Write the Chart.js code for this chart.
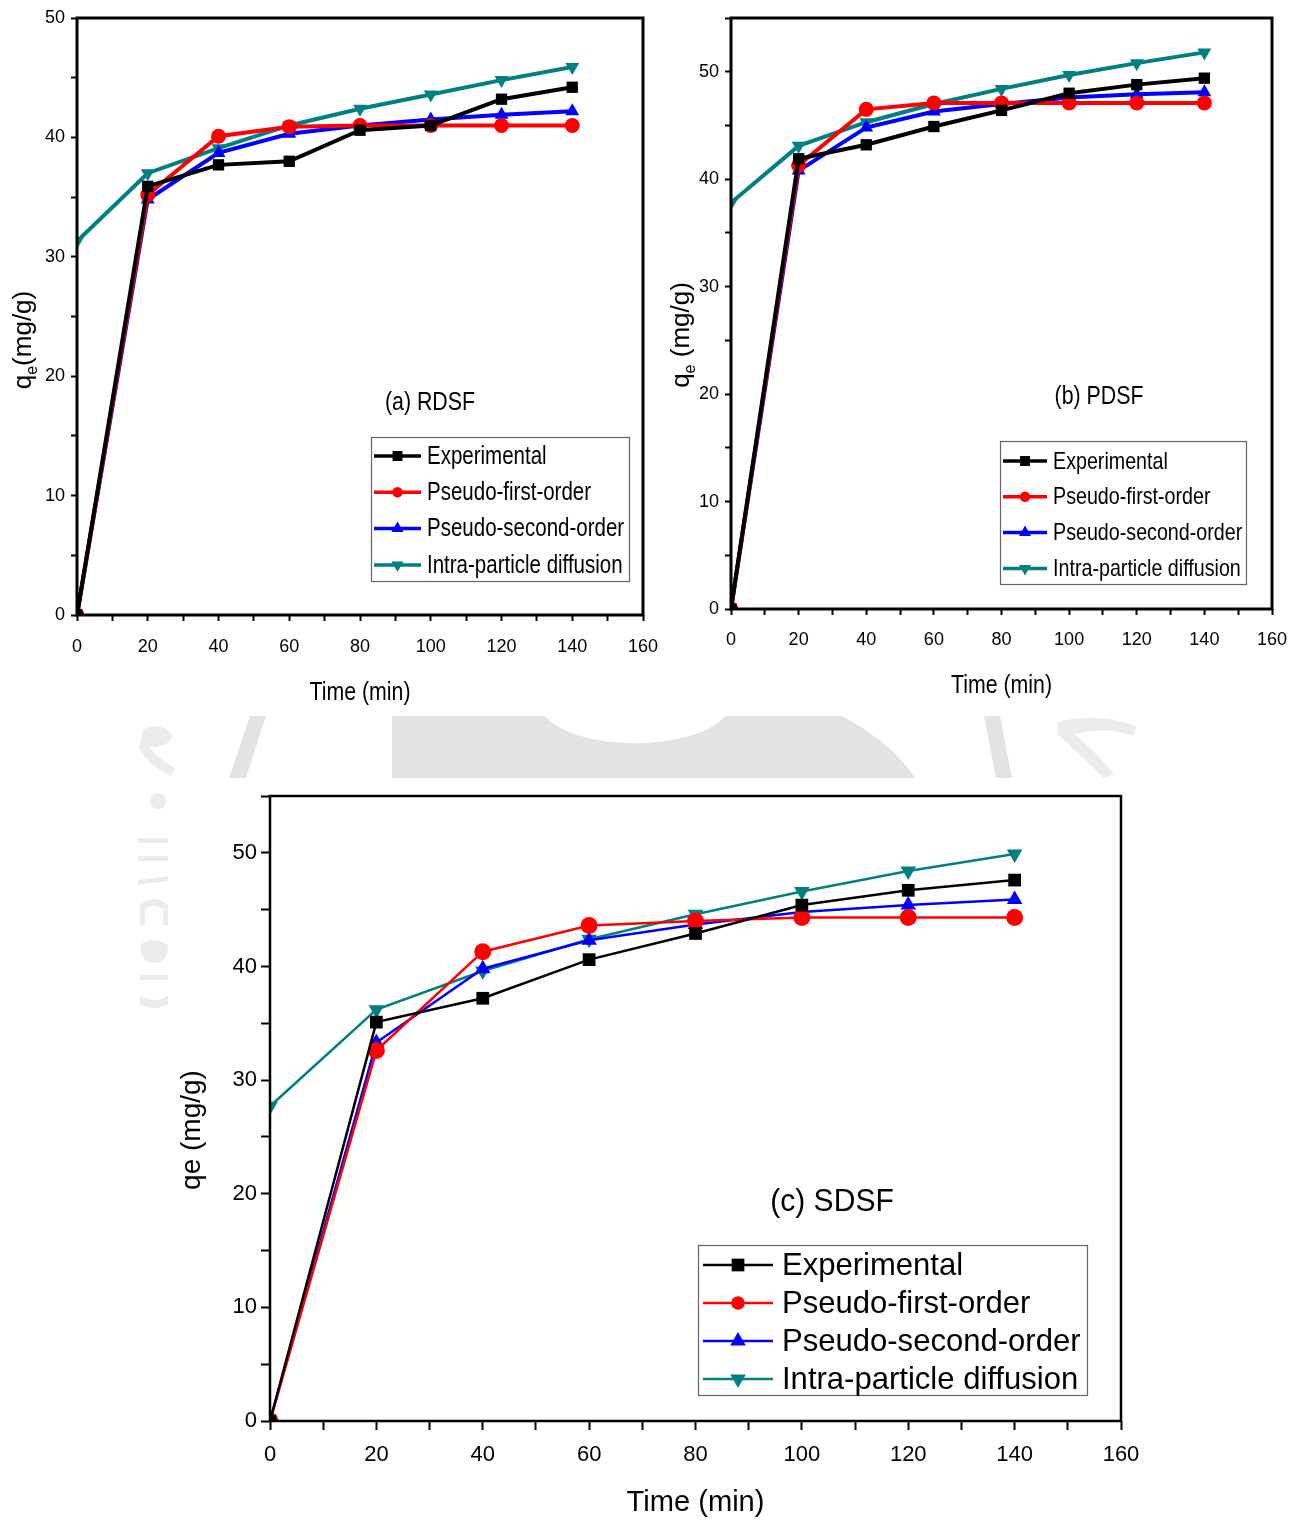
<!DOCTYPE html>
<html>

<head>
  <title>Adsorption kinetics</title>
  <script src="https://cdn.jsdelivr.net/npm/chart.js@4.4.0/dist/chart.umd.min.js"></script>
  <style>
    body { margin: 0; background: #fff; width: 1299px; height: 1521px; position: relative; overflow: hidden; }
    canvas { position: absolute; }
    #bg { position: absolute; left: 0; top: 0; }
  </style>
</head>

<body>
  <!-- faint page artwork behind the lower plot -->
  <svg id="bg" width="1299" height="1521">
    <g fill="#e3e3e3">
      <path d="M392 716 L545 716 A95 40 0 0 0 725 716 L842 716 Q895 745 915 778 L392 778 Z" />
      <path d="M250 716 L266 716 L246 778 L229 778 Z" />
      <path d="M984 716 L1000 716 L1012 778 L996 778 Z" />
    </g>
    <g fill="#ececec">
      <path d="M143 730 q18 -10 30 6 q-8 14 -24 10 q10 14 26 22 l-4 8 q-22 -10 -32 -28 Z" />
      <path d="M1058 722 q40 -10 78 4 l-2 10 q-30 -10 -60 -2 q20 16 40 40 l-10 4 q-28 -26 -46 -44 Z" />
      <circle cx="158" cy="801" r="8" />
      <rect x="138" y="838" width="30" height="5" />
      <rect x="138" y="856" width="30" height="5" />
      <path d="M138 880 l30 -4 l0 5 l-30 4 Z" />
      <path d="M140 905 q14 -12 28 0 l0 20 l-5 0 l0 -16 q-9 -6 -18 0 l0 16 l-5 0 Z" />
      <path d="M140 945 q14 -10 28 0 q0 18 -14 18 q-14 0 -14 -18 Z" />
      <rect x="140" y="975" width="28" height="5" />
      <path d="M140 995 q14 10 28 0 l0 9 q-14 8 -28 0 Z" />
    </g>
  </svg>

  <canvas id="chartA" width="660" height="715" style="left:0;top:0"></canvas>
  <canvas id="chartB" width="639" height="715" style="left:660px;top:0"></canvas>
  <canvas id="chartC" width="1020" height="741" style="left:140px;top:780px"></canvas>

  <script>
    const timeMin = [0, 20, 40, 60, 80, 100, 120, 140];

    const seriesNames = ['Experimental', 'Pseudo-first-order', 'Pseudo-second-order', 'Intra-particle diffusion'];
    const seriesColors = ['#000000', '#ff0000', '#0000ff', '#008080'];
    const seriesMarkers = ['rect', 'circle', 'triangle', 'triangle'];
    const markerRotation = [0, 0, 0, 180];

    // (a) RDSF
    const rdsfExp = [0, 35.9, 37.7, 38.0, 40.6, 41.0, 43.2, 44.2];
    const rdsfPfo = [0, 35.2, 40.1, 40.9, 41.0, 41.0, 41.0, 41.0];
    const rdsfPso = [0, 34.8, 38.7, 40.3, 41.0, 41.5, 41.9, 42.2];
    const rdsfIpd = [31.3, 37.0, 39.1, 41.0, 42.4, 43.6, 44.8, 45.9];

    // (b) PDSF
    const pdsfExp = [0, 41.9, 43.2, 44.9, 46.4, 48.0, 48.8, 49.4];
    const pdsfPfo = [0, 41.3, 46.5, 47.1, 47.1, 47.1, 47.1, 47.1];
    const pdsfPso = [0, 40.8, 44.8, 46.3, 47.0, 47.6, 47.9, 48.1];
    const pdsfIpd = [37.8, 43.1, 45.3, 47.0, 48.4, 49.7, 50.8, 51.8];

    // (c) SDSF
    const sdsfExp = [0, 35.1, 37.2, 40.6, 42.9, 45.4, 46.7, 47.6];
    const sdsfPfo = [0, 32.6, 41.3, 43.6, 44.0, 44.3, 44.3, 44.3];
    const sdsfPso = [0, 33.3, 39.8, 42.3, 43.7, 44.8, 45.4, 45.9];
    const sdsfIpd = [27.7, 36.2, 39.6, 42.4, 44.6, 46.6, 48.4, 49.9];

    const xTickLabels = [0, 20, 40, 60, 80, 100, 120, 140, 160];

    const REG = '"Liberation Sans", Arial, sans-serif';

    // text squeezed horizontally, for the condensed lettering of the top panels
    function fillTextSx(ctx, text, x, y, sx) {
      ctx.save();
      ctx.translate(x, y);
      ctx.scale(sx, 1);
      ctx.fillText(text, 0, 0);
      ctx.restore();
    }

    function drawMarker(ctx, style, rot, x, y, r, color) {
      ctx.save();
      ctx.fillStyle = color;
      ctx.translate(x, y);
      ctx.rotate(rot * Math.PI / 180);
      ctx.beginPath();
      if (style === 'rect') {
        const s = r * Math.SQRT1_2;
        ctx.rect(-s, -s, 2 * s, 2 * s);
      } else if (style === 'circle') {
        ctx.arc(0, 0, r * 0.75, 0, Math.PI * 2);
      } else {
        ctx.moveTo(0, -r);
        ctx.lineTo(r * 0.866, r * 0.5);
        ctx.lineTo(-r * 0.866, r * 0.5);
        ctx.closePath();
      }
      ctx.fill();
      ctx.restore();
    }

    function drawYTitle(ctx, t) {
      ctx.save();
      ctx.translate(t.x, t.y);
      ctx.rotate(-Math.PI / 2);
      ctx.fillStyle = '#000';
      ctx.textBaseline = 'alphabetic';
      const main = `${t.size}px ${REG}`;
      const sub = `${Math.round(t.size * 0.62)}px ${REG}`;
      ctx.font = main;
      const wq = ctx.measureText('q').width;
      const wr = ctx.measureText(t.rest).width;
      ctx.font = t.subscript ? sub : main;
      const we = ctx.measureText('e').width;
      let x = -(wq + we + wr) / 2;
      const base = t.size * 0.36;
      ctx.font = main;
      ctx.fillText('q', x, base);
      x += wq;
      ctx.font = t.subscript ? sub : main;
      ctx.fillText('e', x, t.subscript ? base + t.size * 0.22 : base);
      x += we;
      ctx.font = main;
      ctx.fillText(t.rest, x, base);
      ctx.restore();
    }

    function panelPlugin(p) {
      return {
        id: 'panelDecor',
        afterDatasetsDraw(chart) {
          const { ctx, chartArea: a } = chart;
          ctx.save();
          ctx.strokeStyle = '#000';
          ctx.lineWidth = p.frame;
          ctx.strokeRect(a.left, a.top, a.right - a.left, a.bottom - a.top);
          ctx.restore();
        },
        afterDraw(chart) {
          const { ctx, chartArea: a } = chart;
          ctx.save();
          ctx.fillStyle = '#000';
          ctx.textAlign = 'center';
          ctx.textBaseline = 'middle';
          // x axis title
          ctx.font = `${p.xTitle.size}px ${REG}`;
          fillTextSx(ctx, 'Time (min)', (a.left + a.right) / 2, a.bottom + p.xTitle.offset, p.sx);
          // panel label
          ctx.font = `${p.label.size}px ${REG}`;
          fillTextSx(ctx, p.label.text, p.label.x, p.label.y, p.sx);
          ctx.restore();

          drawYTitle(ctx, p.yTitle);

          // legend box
          const L = p.legend;
          ctx.save();
          ctx.fillStyle = '#fff';
          ctx.fillRect(L.x, L.y, L.w, L.h);
          ctx.strokeStyle = '#666';
          ctx.lineWidth = 1.2;
          ctx.strokeRect(L.x + 0.5, L.y + 0.5, L.w, L.h);
          ctx.font = `${L.size}px ${REG}`;
          ctx.textAlign = 'left';
          ctx.textBaseline = 'middle';
          chart.data.datasets.forEach((ds, i) => {
            const y = L.y + L.first + i * L.gap;
            ctx.strokeStyle = ds.borderColor;
            ctx.lineWidth = L.lineW;
            ctx.beginPath();
            ctx.moveTo(L.x + L.lineX0, y);
            ctx.lineTo(L.x + L.lineX1, y);
            ctx.stroke();
            drawMarker(ctx, ds.pointStyle, ds.pointRotation, L.x + (L.lineX0 + L.lineX1) / 2, y, L.marker, ds.borderColor);
            ctx.fillStyle = '#000';
            fillTextSx(ctx, ds.label, L.x + L.textX, y + 1, p.sx);
          });
          ctx.restore();
        }
      };
    }

    function makeDatasets(series, p) {
      return series.map((vals, i) => ({
        label: seriesNames[i],
        data: timeMin.map((t, k) => ({ x: t, y: vals[k] })),
        borderColor: seriesColors[i],
        backgroundColor: seriesColors[i],
        borderWidth: p.lineW,
        pointStyle: seriesMarkers[i],
        pointRotation: markerRotation[i],
        pointRadius: p.markers[i],
        pointBorderWidth: 0,
        tension: 0
      }));
    }

    function makeChart(id, series, p) {
      return new Chart(document.getElementById(id), {
        type: 'line',
        data: { datasets: makeDatasets(series, p) },
        options: {
          responsive: false,
          animation: false,
          layout: { padding: { top: p.padTop, right: p.padRight, left: 0, bottom: 0 } },
          plugins: { legend: { display: false }, tooltip: { enabled: false } },
          scales: {
            x: {
              type: 'linear', min: 0, max: 160,
              afterFit: (s) => { s.height = p.xAxisH; s.paddingLeft = 0; s.paddingRight = 0; },
              ticks: {
                stepSize: 10, autoSkip: false, maxRotation: 0, padding: p.xPad, color: '#000',
                font: { family: REG, size: p.xTickSize },
                callback: (v) => xTickLabels.includes(v) ? String(v) : ''
              },
              grid: { drawOnChartArea: false, tickLength: p.tick, tickWidth: 2, tickColor: '#000' },
              border: { display: false }
            },
            y: {
              min: 0, max: p.yMax,
              afterFit: (s) => { s.width = p.yAxisW; s.paddingTop = 0; s.paddingBottom = 0; },
              ticks: {
                stepSize: 5, autoSkip: false, padding: p.yPad, color: '#000',
                font: { family: REG, size: p.yTickSize },
                callback: (v) => v % 10 === 0 ? String(v) : ''
              },
              grid: { drawOnChartArea: false, tickLength: p.tick, tickWidth: 2, tickColor: '#000' },
              border: { display: false }
            }
          }
        },
        plugins: [panelPlugin(p)]
      });
    }

    makeChart('chartA', [rdsfExp, rdsfPfo, rdsfPso, rdsfIpd], {
      yMax: 50, padTop: 18, padRight: 17, yAxisW: 77, xAxisH: 100,
      tick: 6, xPad: 15, yPad: 6, frame: 3, lineW: 4, sx: 0.82,
      markers: [8, 7.5, 8, 8],
      xTickSize: 18, yTickSize: 18,
      xTitle: { size: 26, offset: 78 },
      yTitle: { x: 22, y: 340, size: 26, rest: '(mg/g)', subscript: true },
      label: { text: '(a) RDSF', x: 430, y: 403, size: 26 },
      legend: { x: 371, y: 437, w: 258, h: 144, first: 19, gap: 36.3, lineX0: 3, lineX1: 50, textX: 56,
        lineW: 3.5, marker: 7, size: 25 }
    });

    makeChart('chartB', [pdsfExp, pdsfPfo, pdsfPso, pdsfIpd], {
      yMax: 55, padTop: 18, padRight: 27, yAxisW: 71, xAxisH: 106,
      tick: 6, xPad: 14, yPad: 6, frame: 3, lineW: 4, sx: 0.82,
      markers: [8, 7.5, 8, 8],
      xTickSize: 18, yTickSize: 18,
      xTitle: { size: 26, offset: 77 },
      yTitle: { x: 20, y: 335, size: 26, rest: ' (mg/g)', subscript: true },
      label: { text: '(b) PDSF', x: 439, y: 397, size: 26 },
      legend: { x: 340, y: 441, w: 246, h: 143, first: 20, gap: 35.8, lineX0: 3, lineX1: 47, textX: 53,
        lineW: 3.5, marker: 7, size: 24 }
    });

    makeChart('chartC', [sdsfExp, sdsfPfo, sdsfPso, sdsfIpd], {
      yMax: 55, padTop: 16, padRight: 39, yAxisW: 130, xAxisH: 100,
      tick: 9, xPad: 12, yPad: 4, frame: 2.5, lineW: 2.5, sx: 0.97,
      markers: [9, 8.5, 9, 9],
      xTickSize: 22, yTickSize: 22,
      xTitle: { size: 30, offset: 82 },
      yTitle: { x: 50, y: 350, size: 28, rest: ' (mg/g)', subscript: false },
      label: { text: '(c) SDSF', x: 692, y: 422, size: 31 },
      legend: { x: 558, y: 465, w: 389, h: 150, first: 20, gap: 38, lineX0: 5, lineX1: 75, textX: 84,
        lineW: 2.5, marker: 9, size: 32 }
    });
  </script>
</body>

</html>
